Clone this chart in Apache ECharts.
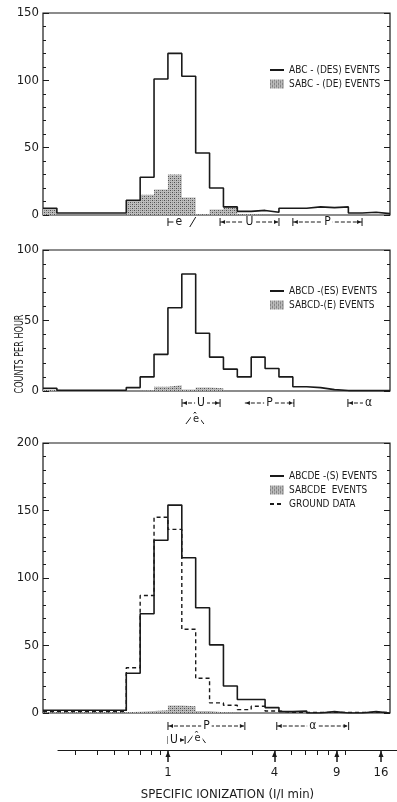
<!DOCTYPE html>
<html>
<head>
<meta charset="utf-8">
<script src="https://cdn.jsdelivr.net/npm/echarts@6/dist/echarts.min.js"></script>
<style>
  html, body { margin: 0; padding: 0; background: #fff; }
  #chart { width: 397px; height: 802px; }
</style>
</head>
<body>
<div id="chart"></div>
<script>
// 25 equal bins along the specific-ionization scale, counts per hour
const abcDes = [5, 1.5, 1.5, 1.5, 1.5, 1.5, 11, 28, 101, 120, 103, 46, 20, 6, 2.7, 3.4, 2, 5, 5, 6, 5.5, 6, 1.5, 2, 1];
const sabcDe = [5, 0, 0, 0, 0, 0, 11, 15, 19, 30, 13, 0.5, 4, 6, 0.5, 0, 0, 0, 0, 0, 0, 0, 0, 0, 0];

const abcdEs = [2, 0.5, 0.5, 0.5, 0.5, 0.5, 2.4, 10, 26, 59, 83, 41, 24, 15.5, 10, 24, 16, 10, 3, 2.4, 1, 0.3, 0.3, 0.3, 0.3];
const sabcdE = [1, 0, 0, 0, 0, 0, 0, 0.5, 3, 4, 1, 2.5, 2, 0, 0, 0, 0, 0, 0, 0, 0, 0, 0, 0, 0];

const abcdeS = [2, 2, 2, 2, 2, 2, 29.5, 73.5, 128, 154, 115, 78, 50.5, 20, 10, 10, 4, 1, 1.5, 0, 1, 0, 0, 1, 0];
const sabcde = [0.5, 0.5, 0.5, 0.5, 0.5, 0.5, 1, 1.5, 2, 5.5, 5, 1.5, 0.5, 0, 0, 0, 0, 0, 0, 0, 0, 0, 0, 0, 0];
const ground = [1, 1, 1, 1, 1, 1, 33.5, 87, 145, 136, 62, 25.7, 7.5, 5.7, 2.5, 5, 1.5, 0.5, 0.5, 0.5, 0.5, 0.5, 0.5, 0.5, 0.5];

const panelMax = [150, 100, 200];

// shared ionization scale (I/Imin), log spaced
const scaleMin = 0.239;
const scaleMax = 19.7;
const majorTicks = [1, 4, 9, 16];
const minorTicks = [0.3, 0.4, 0.5, 0.6, 0.7, 0.8, 0.9, 2, 3, 5, 6, 7, 8, 10];

const INK = "#1a1a1a";
const FONT = "'Liberation Sans Narrow', 'DejaVu Sans Condensed', 'Liberation Sans', sans-serif";

// halftone-ish fill for the shaded histograms
const pat = document.createElement("canvas");
pat.width = 4;
pat.height = 4;
const pctx = pat.getContext("2d");
pctx.fillStyle = "#bdbdbd";
pctx.fillRect(0, 0, 4, 4);
pctx.fillStyle = "#4e4e4e";
pctx.fillRect(0, 0, 1, 1);
pctx.fillRect(2, 2, 1, 1);
pctx.fillStyle = "#858585";
pctx.fillRect(2, 0, 1, 1);
pctx.fillRect(0, 2, 1, 1);
const shade = { image: pat, repeat: "repeat" };

const steps = (vals) => {
  const pts = vals.map((v, i) => [i, v]);
  pts.push([vals.length, vals[vals.length - 1]]);
  return pts;
};

const grids = [
  { left: 43, top: 13, width: 347, height: 202 },
  { left: 43, top: 250, width: 347, height: 141 },
  { left: 43, top: 443, width: 347, height: 270 },
  { left: 58, top: 749, width: 339, height: 1 },
];

const xAxes = [];
const yAxes = [];
[0, 1, 2].forEach((p) => {
  xAxes.push({ type: "value", gridIndex: p, min: 0, max: 25, show: false });
  const base = {
    type: "value",
    gridIndex: p,
    min: 0,
    max: panelMax[p],
    interval: 50,
    axisLine: { show: false },
    axisTick: { show: true, inside: true, length: 6, lineStyle: { color: INK } },
    minorTick: { show: true, splitNumber: 5, length: 3, lineStyle: { color: INK } },
    splitLine: { show: false },
    minorSplitLine: { show: false },
  };
  yAxes.push({
    ...base,
    position: "left",
    axisLabel: { color: INK, fontFamily: FONT, fontSize: 13, margin: 4 },
  });
  yAxes.push({ ...base, position: "right", axisLabel: { show: false } });
});

// bottom ionization axis
xAxes.push({
  type: "value",
  gridIndex: 3,
  position: "bottom",
  min: Math.log10(scaleMin),
  max: Math.log10(scaleMax),
  axisLine: { show: true, lineStyle: { color: INK, width: 1.2 } },
  axisTick: { show: true, length: 5, customValues: minorTicks.map(Math.log10), lineStyle: { color: INK } },
  axisLabel: { show: false },
  splitLine: { show: false },
  name: "SPECIFIC IONIZATION (I/I min)",
  nameLocation: "middle",
  nameGap: 38,
  nameTextStyle: { color: INK, fontFamily: FONT, fontSize: 13 },
});
xAxes.push({
  type: "value",
  gridIndex: 3,
  position: "bottom",
  min: Math.log10(scaleMin),
  max: Math.log10(scaleMax),
  axisLine: { show: false },
  axisTick: { show: true, length: 12, customValues: majorTicks.map(Math.log10), lineStyle: { color: INK, width: 1.5 } },
  axisLabel: {
    show: true,
    customValues: majorTicks.map(Math.log10),
    formatter: (v) => String(Math.round(Math.pow(10, v))),
    color: INK,
    fontFamily: FONT,
    fontSize: 13,
    margin: 16,
  },
  splitLine: { show: false },
});
yAxes.push({ type: "value", gridIndex: 3, show: false });

const solid = (name, p, vals) => ({
  name, type: "line", xAxisIndex: p, yAxisIndex: 2 * p, step: "end", symbol: "none",
  data: steps(vals), lineStyle: { color: INK, width: 1.6 }, itemStyle: { color: INK }, z: 4,
});
const shaded = (name, p, vals) => ({
  name, type: "line", xAxisIndex: p, yAxisIndex: 2 * p, step: "end", symbol: "none",
  data: steps(vals), lineStyle: { width: 0 }, areaStyle: { color: shade, opacity: 1 },
  itemStyle: { color: "#9a9a9a" }, z: 2,
});
const dashed = (name, p, vals) => ({
  name, type: "line", xAxisIndex: p, yAxisIndex: 2 * p, step: "end", symbol: "none",
  data: steps(vals), lineStyle: { color: INK, width: 1.4, type: [4, 3] }, itemStyle: { color: INK }, z: 3,
});

const legendBase = (top, data) => ({
  orient: "vertical", left: 264, top, itemGap: 4, itemWidth: 14, itemHeight: 9,
  textStyle: { color: INK, fontFamily: FONT, fontSize: 10 },
  selectedMode: false, data,
});
// line entries: keep the stroke, hide the marker circle
const lineItem = (name) => ({ name, itemStyle: { opacity: 0 } });
const shadeItem = (name) => ({ name, icon: "rect", itemStyle: { color: shade, borderWidth: 0, opacity: 1 } });

const chart = echarts.init(document.getElementById("chart"), null, { renderer: "canvas" });
chart.setOption({
  animation: false,
  backgroundColor: "#fff",
  grid: grids.map((g, i) => ({ ...g, show: i < 3, borderColor: INK, borderWidth: 1.2, backgroundColor: "transparent" })),
  xAxis: xAxes,
  yAxis: yAxes,
  legend: [
    legendBase(60, [lineItem("ABC - (DES) EVENTS"), shadeItem("SABC - (DE) EVENTS")]),
    legendBase(281, [lineItem("ABCD -(ES) EVENTS"), shadeItem("SABCD-(E) EVENTS")]),
    legendBase(466, [lineItem("ABCDE -(S) EVENTS"), shadeItem("SABCDE  EVENTS"), lineItem("GROUND DATA")]),
  ],
  series: [
    shaded("SABC - (DE) EVENTS", 0, sabcDe),
    solid("ABC - (DES) EVENTS", 0, abcDes),
    shaded("SABCD-(E) EVENTS", 1, sabcdE),
    solid("ABCD -(ES) EVENTS", 1, abcdEs),
    shaded("SABCDE  EVENTS", 2, sabcde),
    dashed("GROUND DATA", 2, ground),
    solid("ABCDE -(S) EVENTS", 2, abcdeS),
  ],
});

// particle-range markers under each panel, placed on the ionization scale
const gx = (v) => chart.convertToPixel({ xAxisIndex: 3 }, Math.log10(v));
const seg = (x1, y1, x2, y2, dash) => ({
  type: "line", shape: { x1, y1, x2, y2 }, silent: true,
  style: { stroke: INK, lineWidth: 1, lineDash: dash || null },
});
const head = (x, y, dir) => ({
  type: "polygon", silent: true,
  shape: { points: [[x, y], [x + 4 * dir, y - 2], [x + 4 * dir, y + 2]] },
  style: { fill: INK },
});
const label = (x, y, t, size) => ({
  type: "text", x, y, silent: true, z: 10,
  style: { text: t, fill: INK, font: `${size || 12}px ${FONT}`, align: "center", verticalAlign: "middle", backgroundColor: "#fff", padding: [0, 2] },
});
const range = (v1, v2, y, t, opts = {}) => {
  const x1 = gx(v1), x2 = gx(v2);
  const out = [seg(x1, y, x2, y, [4, 2])];
  if (opts.leftBar !== false) out.push(seg(x1, y - 4, x1, y + 4));
  if (opts.rightBar !== false) out.push(seg(x2, y - 4, x2, y + 4));
  out.push(head(x1 + 1, y, 1));
  if (opts.rightHead !== false) out.push(head(x2 - 1, y, -1));
  out.push(label(opts.at ? gx(opts.at) : (x1 + x2) / 2, y, t));
  return out;
};
const tent = (v, y) => {
  const cx = gx(v);
  return [seg(cx - 9, y + 6, cx, y - 6), seg(cx, y - 6, cx + 9, y + 6), label(cx + 1, y + 1, "e", 11)];
};

const yTop = 215 + 7, yMid = 391 + 12, yBot = 713 + 13;
const graphic = [
  // panel 1
  seg(gx(1), yTop - 4, gx(1), yTop + 4),
  seg(gx(1), yTop, gx(1.1), yTop),
  label(gx(1.15), yTop, "e"),
  seg(gx(1.38) - 3, yTop + 5, gx(1.38) + 3, yTop - 5),
  ...range(1.97, 4.24, yTop, "U"),
  ...range(5.08, 12.5, yTop, "P"),
  // panel 2
  ...range(1.2, 1.97, yMid, "U"),
  ...tent(1.42, yMid + 15),
  ...range(2.72, 5.15, yMid, "P", { leftBar: false }),
  ...range(10.4, 14.5, yMid, "α", { rightBar: false, rightHead: false, at: 13.6 }),
  // panel 3
  ...range(1, 2.72, yBot, "P"),
  ...range(4.12, 10.5, yBot, "α"),
  ...range(1, 1.25, yBot + 14, "U", { at: 1.08 }),
  ...tent(1.45, yBot + 11),
];
// arrowheads on the major ionization ticks
majorTicks.forEach((v) => {
  const x = gx(v);
  graphic.push({
    type: "polygon", silent: true,
    shape: { points: [[x, 751], [x - 2.5, 757], [x + 2.5, 757]] },
    style: { fill: INK },
  });
});
graphic.push({
  type: "text", x: 20, y: 354, rotation: Math.PI / 2, scaleX: 0.75, silent: true,
  style: { text: "COUNTS PER HOUR", fill: INK, font: `12px ${FONT}`, align: "center", verticalAlign: "middle" },
});
chart.setOption({ graphic });
</script>
</body>
</html>
